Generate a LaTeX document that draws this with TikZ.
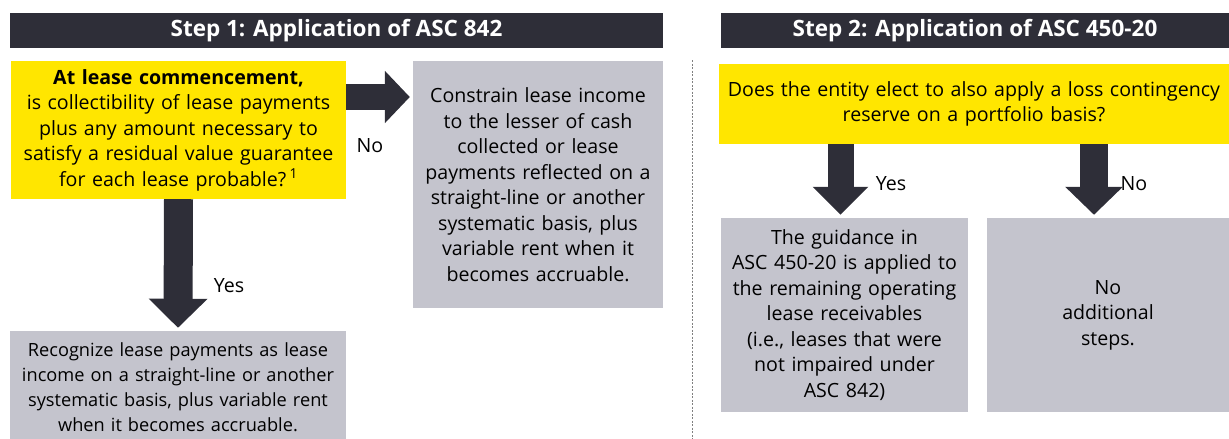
\documentclass[tikz,border=0pt]{standalone}
\usepackage{fontspec}
\setmainfont{Open Sans}
\usepackage{tikz}
\usetikzlibrary{calc,arrows.meta}
\definecolor{eydark}{HTML}{2E2E38}
\definecolor{eyyellow}{HTML}{FFE600}
\definecolor{eygrey}{HTML}{C4C4CD}
\newcommand{\bodyfont}{\fontsize{19.6}{25.5}\selectfont}

\begin{document}
\begin{tikzpicture}[x=1pt, y=-1pt,
    box/.style={inner sep=0, align=center, font=\bodyfont},
    head/.style={fill=eydark, text=white, inner sep=0, minimum height=35pt,
      font=\fontsize{22.5}{24}\selectfont\bfseries},
    fat/.style={eydark, line width=#1},
    lbl/.style={inner sep=0, font=\bodyfont}]
  \useasboundingbox (0,0) rectangle (1229,439);

  \node[head, minimum width=653pt] (h1) at (336.5, 30.5) {Step 1: Application of ASC 842};
  \node[head, minimum width=508pt] (h2) at (975, 30.5) {Step 2: Application of ASC 450-20};

  \node[box, fill=eyyellow, minimum width=335pt, minimum height=138pt, text width=333pt]
    (q1) at (178.5, 130) {\textbf{At lease commencement,}\\is collectibility of lease payments\\plus any amount necessary to\\satisfy a residual value guarantee\\for each lease probable?\,\textsuperscript{1}};

  \node[box, fill=eygrey, minimum width=250pt, minimum height=247pt, text width=248pt]
    (constr) at (538, 184.5) {Constrain lease income\\to the lesser of cash\\collected or lease\\payments reflected on a\\straight-line or another\\systematic basis, plus\\variable rent when it\\becomes accruable.};

  \node[box, fill=eygrey, minimum width=336pt, minimum height=112pt, text width=334pt,
      font=\fontsize{18.2}{25}\selectfont]
    (recog) at (178, 387) {Recognize lease payments as lease\\income on a straight-line or another\\systematic basis, plus variable rent\\when it becomes accruable.};

  \node[box, fill=eyyellow, minimum width=510pt, minimum height=80pt, text width=508pt]
    (q2) at (974, 104) {Does the entity elect to also apply a loss contingency\\reserve on a portfolio basis?};

  \node[box, fill=eygrey, minimum width=247pt, minimum height=194pt, text width=245pt]
    (guid) at (844.5, 315) {The guidance in\\ASC 450-20 is applied to\\the remaining operating\\lease receivables\\(i.e., leases that were\\not impaired under\\ASC 842)};

  \node[box, fill=eygrey, minimum width=242pt, minimum height=194pt, text width=240pt]
    (nostep) at (1108, 315) {No\\additional\\steps.};

  \node[lbl] (no1) at (370, 146) {No};
  \node[lbl] (yes1) at (229, 286) {Yes};
  \node[lbl] (yes2) at (891, 184) {Yes};
  \node[lbl] (no2) at (1134, 184) {No};

  \coordinate (d1) at (692, 60);
  \coordinate (d2) at (692, 439);
  \draw[gray, dashed, dash pattern=on 2pt off 1.5pt] (d1) -- (d2);

  \draw[fat=26pt, -{Triangle[width=51pt, length=25pt]}, shorten >=3pt]
    ([yshift=33pt]q1.east) -- ([yshift=33pt]q1.east -| constr.west);

  \draw[fat=29pt, -{Triangle[width=57pt, length=29pt]}, shorten >=3pt]
    (q1.south) -- (recog.north);

  \draw[fat=26pt, -{Triangle[width=54pt, length=28pt]}, shorten >=3pt]
    ([xshift=-4pt]guid.north |- q2.south) -- ([xshift=-4pt]guid.north);

  \draw[fat=28pt, -{Triangle[width=56pt, length=28pt]}, shorten >=3pt]
    ([xshift=-14pt]nostep.north |- q2.south) -- ([xshift=-14pt]nostep.north);
\end{tikzpicture}
\end{document}
